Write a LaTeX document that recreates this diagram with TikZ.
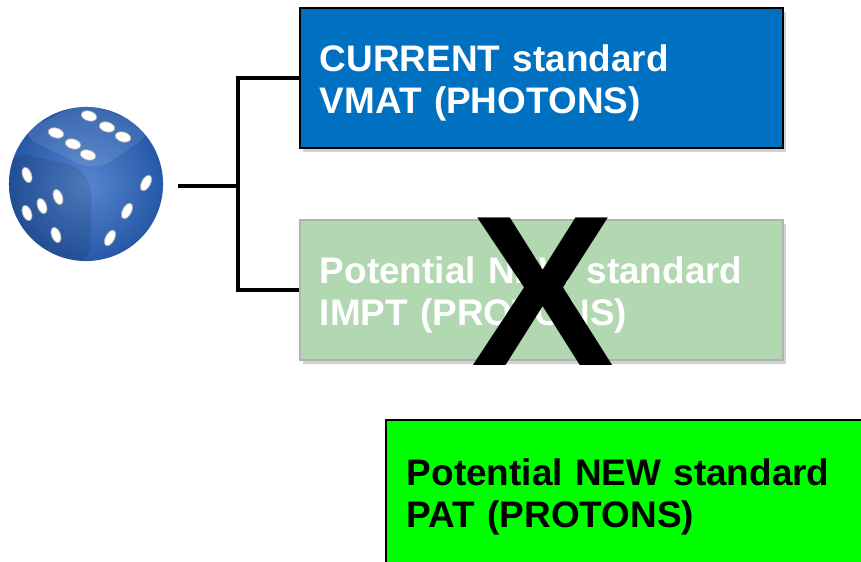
\documentclass[tikz,border=0pt]{standalone}
\usepackage{fontspec}
\setmainfont{Liberation Sans}
\usetikzlibrary{shadows, positioning}

\definecolor{vmatblue}{HTML}{0070C0}
\definecolor{imptgreen}{HTML}{B2D8B2}
\definecolor{patgreen}{HTML}{00FF00}
\definecolor{diceblue}{HTML}{2C68C4}

% lifts the first line so the text sits a little lower in its box
\newcommand{\boxstrut}{\rule{0pt}{10.2pt}}

\begin{document}
\begin{tikzpicture}[x=0.01cm, y=-0.01cm,
    stdbox/.style={rectangle, draw, line width=0.6pt, minimum width=4.83cm, minimum height=1.4cm,
      text width=4.43cm, inner xsep=0.2cm, inner ysep=0pt, align=left,
      font=\fontsize{10.5}{11.9}\selectfont\bfseries},
    boxshadow/.style={drop shadow={shadow xshift=0.03cm, shadow yshift=-0.04cm, opacity=0.35}},
    link/.style={line width=1.3pt},
    pip/.style={fill=white, draw=black!35, line width=0.2pt}
  ]
    \clip (0,0) rectangle (861,562);
    \fill[white] (0,0) rectangle (861,562);

    % Dice
    \node[circle, minimum size=1.54cm, inner sep=0pt, shading=radial,
      inner color=diceblue!80!white, outer color=diceblue!85!black] (dice) at (86,184) {};
    \begin{scope}
      \clip (dice) circle[radius=77];
      \fill[white, opacity=0.1, rounded corners=0.2cm] (18,134) -- (84,102) -- (156,130) -- (96,172) -- cycle;
      \fill[black, opacity=0.1, rounded corners=0.25cm] (6,150) -- (92,170) -- (90,268) -- (6,268) -- cycle;
    \end{scope}
    % top face
    \foreach \px/\py in {89/116, 107/127, 123/137, 56/133, 73/144, 88/155}
      \fill[pip, rotate around={-15:(\px,\py)}] (\px,\py) ellipse[x radius=8, y radius=5];
    % left face
    \foreach \px/\py in {27/175, 58/197, 42/206, 27/213, 56/235}
      \fill[pip, rotate around={20:(\px,\py)}] (\px,\py) ellipse[x radius=4.5, y radius=8];
    % right face
    \foreach \px/\py in {146/183, 127/211, 110/238}
      \fill[pip, rotate around={-28:(\px,\py)}] (\px,\py) ellipse[x radius=4.5, y radius=8.5];

    % Current standard
    \node[stdbox, boxshadow, fill=vmatblue, text=white] (vmat) at (541.5,78) {\boxstrut CURRENT standard\\VMAT (PHOTONS)};

    % Potential new standard (struck out)
    \node[stdbox, boxshadow, fill=imptgreen, draw=black!30, text=white] (impt) at (541.5,290) {\boxstrut Potential NEW standard\\IMPT (PROTONS)};

    % Potential new standard
    \node[stdbox, boxshadow, fill=patgreen, minimum width=4.9cm, minimum height=1.44cm,
      text width=4.48cm, inner xsep=0.21cm] (pat) at (631,492) {\boxstrut Potential NEW standard\\PAT (PROTONS)};

    % Branches
    \coordinate (fork) at (238,186);
    \draw[link, shorten <=0.14cm] (dice.east |- fork) -- (fork);
    \draw[link] (vmat.west) -| (fork) |- (impt.west);

    \node[font=\fontsize{61}{61}\selectfont\bfseries, inner sep=0pt] (cross) at (543,292) {X};

  \end{tikzpicture}
\end{document}
